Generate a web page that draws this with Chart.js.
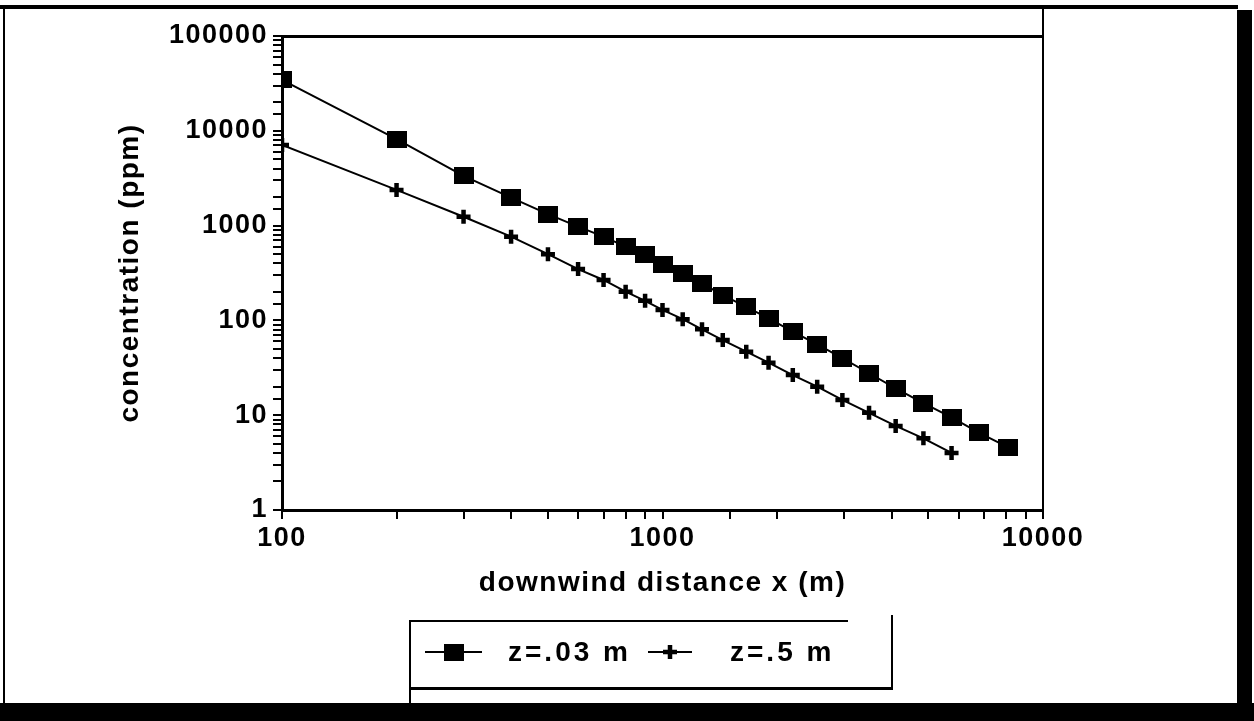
<!DOCTYPE html>
<html>
<head>
<meta charset="utf-8">
<script src="https://cdn.jsdelivr.net/npm/chart.js@4/dist/chart.umd.min.js"></script>
<style>
html, body { margin: 0; padding: 0; background: #fff; }
#wrap { position: relative; width: 1254px; height: 721px; }
</style>
</head>
<body>
<div id="wrap"><canvas id="chart" width="1254" height="721"></canvas></div>
<script>
// -------- Data --------
const SERIES_NAMES = ['z=.03 m', 'z=.5 m'];
// z=.03 m (squares)
const X_LOW = [100, 200, 300, 400, 500, 600, 700, 800, 900, 1000, 1130, 1270, 1440, 1660, 1900, 2200, 2550, 2970, 3490, 4100, 4850, 5750, 6800, 8080];
const Y_LOW = [34400, 8190, 3340, 1970, 1320, 975, 765, 600, 490, 390, 314, 246, 185, 139, 105, 76, 56, 40, 27.7, 19.2, 13.4, 9.5, 6.5, 4.6];
// z=.5 m (crosses)
const X_HIGH = [100, 200, 300, 400, 500, 600, 700, 800, 900, 1000, 1130, 1270, 1440, 1660, 1900, 2200, 2550, 2970, 3490, 4100, 4850, 5750];
const Y_HIGH = [7080, 2380, 1240, 765, 500, 348, 267, 201, 161, 129, 103, 80.5, 62, 46.8, 35.8, 26.5, 20, 14.5, 10.6, 7.7, 5.7, 4.0];

const X_TICK_LABELS = [100, 1000, 10000];
const Y_TICK_LABELS = [1, 10, 100, 1000, 10000, 100000];

// -------- Styles --------
const FONT = 'Liberation Sans, Arial, Helvetica, sans-serif';

function makeSquare(w, h) {
  const c = document.createElement('canvas');
  c.width = w; c.height = h;
  const g = c.getContext('2d');
  g.fillStyle = '#000';
  g.fillRect(0, 0, w, h);
  return c;
}
const squareImg = makeSquare(20, 17);

function isLabelled(list, v) {
  return list.some(t => Math.abs(t - v) < 1e-6 * t);
}

// -------- Plugins --------
const spacingPlugin = {
  id: 'spacing',
  beforeDraw(chart) { chart.ctx.letterSpacing = '1.5px'; }
};

const framePlugin = {
  id: 'frame',
  afterDraw(chart) {
    const ctx = chart.ctx;
    const a = chart.chartArea;
    ctx.save();
    ctx.fillStyle = '#000';
    // outer frame
    ctx.fillRect(0, 5, 1238, 4);
    ctx.fillRect(3, 5, 2, 701);
    ctx.fillRect(1237, 10, 15, 696);
    ctx.fillRect(0, 703, 1254, 18);
    // plot box top and right
    ctx.fillRect(a.left, a.top - 1, a.right - a.left, 3);
    ctx.fillRect(a.right - 1, 5, 2, a.bottom - 4);
    // legend box
    ctx.fillRect(410, 620, 438, 2);
    ctx.fillRect(891, 615, 2, 75);
    ctx.fillRect(410, 687, 483, 3);
    ctx.fillRect(409, 620, 2, 86);

    // legend entries
    const ds = chart.data.datasets;
    const y = 652;
    const entries = [
      { x0: 425, x1: 482, tx: 508 },
      { x0: 648, x1: 692, tx: 730 }
    ];
    ctx.strokeStyle = '#000';
    ctx.font = 'bold 28px ' + FONT;
    ctx.textBaseline = 'middle';
    ctx.textAlign = 'left';
    ctx.letterSpacing = '3px';
    entries.forEach((e, i) => {
      ctx.lineWidth = 2;
      ctx.beginPath();
      ctx.moveTo(e.x0, y);
      ctx.lineTo(e.x1, y);
      ctx.stroke();
      const d = ds[i];
      ctx.lineWidth = d.pointBorderWidth;
      Chart.helpers.drawPoint(ctx, {
        pointStyle: d.pointStyle,
        radius: d.pointRadius,
        rotation: 0,
        borderWidth: d.pointBorderWidth
      }, (e.x0 + e.x1) / 2, y);
      ctx.fillStyle = '#000';
      ctx.fillText(d.label, e.tx, y + 1);
    });
    ctx.restore();
  }
};

// -------- Chart --------
const ctx = document.getElementById('chart').getContext('2d');
new Chart(ctx, {
  type: 'line',
  data: {
    datasets: [
      {
        label: SERIES_NAMES[0],
        data: X_LOW.map((x, i) => ({ x, y: Y_LOW[i] })),
        borderColor: '#000',
        backgroundColor: '#000',
        borderWidth: 2,
        pointStyle: squareImg,
        pointRadius: 9,
        pointBorderWidth: 1,
        tension: 0,
        fill: false
      },
      {
        label: SERIES_NAMES[1],
        data: X_HIGH.map((x, i) => ({ x, y: Y_HIGH[i] })),
        borderColor: '#000',
        backgroundColor: '#000',
        borderWidth: 2,
        pointStyle: 'cross',
        pointRadius: 7,
        pointBorderWidth: 4.5,
        pointBorderColor: '#000',
        tension: 0,
        fill: false
      }
    ]
  },
  options: {
    responsive: false,
    animation: false,
    layout: { padding: { left: 0, top: 36, right: 211, bottom: 0 } },
    plugins: {
      legend: { display: false },
      tooltip: { enabled: false },
      title: { display: false }
    },
    scales: {
      x: {
        type: 'logarithmic',
        min: 100,
        max: 10000,
        position: 'bottom',
        afterFit(scale) { scale.height = 211; },
        border: { color: '#000', width: 3 },
        grid: { drawOnChartArea: false, drawTicks: true, tickLength: 9, color: '#000', lineWidth: 2 },
        ticks: {
          autoSkip: false,
          maxRotation: 0,
          color: '#000',
          padding: 3,
          font: { family: FONT, size: 27, weight: 'bold' },
          callback: (v) => isLabelled(X_TICK_LABELS, v) ? String(Math.round(v)) : ''
        },
        title: {
          display: true,
          text: 'downwind distance x (m)',
          color: '#000',
          font: { family: FONT, size: 28, weight: 'bold' },
          padding: { top: 0, bottom: 121 }
        }
      },
      y: {
        type: 'logarithmic',
        min: 1,
        max: 100000,
        position: 'left',
        afterFit(scale) { scale.width = 282; },
        border: { color: '#000', width: 3 },
        grid: { drawOnChartArea: false, drawTicks: true, tickLength: 9, color: '#000', lineWidth: 2 },
        ticks: {
          autoSkip: false,
          color: '#000',
          padding: 5,
          font: { family: FONT, size: 27, weight: 'bold' },
          callback: (v) => isLabelled(Y_TICK_LABELS, v) ? String(Math.round(v)) : ''
        },
        title: {
          display: true,
          text: 'concentration (ppm)',
          color: '#000',
          font: { family: FONT, size: 28, weight: 'bold' },
          padding: { top: 113, bottom: 0 }
        }
      }
    }
  },
  plugins: [spacingPlugin, framePlugin]
});
</script>
</body>
</html>
